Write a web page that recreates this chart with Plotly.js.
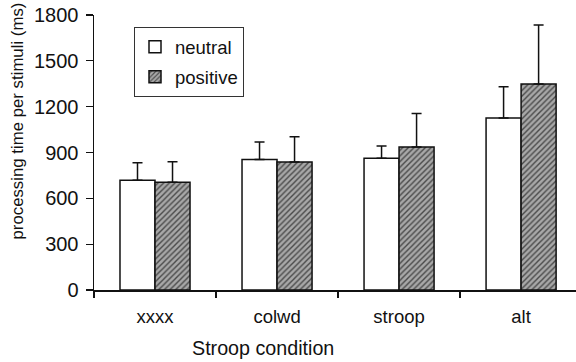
<!DOCTYPE html>
<html>
<head>
<meta charset="utf-8">
<script src="https://cdn.plot.ly/plotly-3.0.1.min.js"></script>
<style>html,body{margin:0;padding:0;background:#fff;}#chart{width:576px;height:362px;}</style>
</head>
<body>
<div id="chart"></div>
<script>
const categories = ["xxxx", "colwd", "stroop", "alt"];
const neutralMeans = [718, 855, 862, 1126];
const neutralErr = [115, 114, 80, 204];
const positiveMeans = [705, 838, 936, 1348];
const positiveErr = [135, 165, 220, 386];
const yTicks = [0, 300, 600, 900, 1200, 1500, 1800];

const FONT = "Liberation Sans, Arial, Helvetica, sans-serif";

const traces = [
  {
    type: "bar", name: "neutral", x: categories, y: neutralMeans, legendgroup: "a",
    marker: {color: "#ffffff", line: {color: "#111", width: 1.5}},
    error_y: {type: "data", array: neutralErr, arrayminus: [0,0,0,0], symmetric: false, color: "#111", thickness: 1.5, width: 5}
  },
  {
    type: "bar", name: "positive", x: categories, y: positiveMeans, legendgroup: "b",
    marker: {color: "#a8a8a8", line: {color: "#111", width: 1.5},
      pattern: {shape: "/", fgcolor: "#4a4a4a", bgcolor: "#a8a8a8", size: 4, solidity: 0.35}},
    error_y: {type: "data", array: positiveErr, arrayminus: [0,0,0,0], symmetric: false, color: "#111", thickness: 1.5, width: 5}
  }
];

const layout = {
  width: 576, height: 362,
  margin: {l: 94, r: 0, t: 15, b: 72},
  paper_bgcolor: "#ffffff", plot_bgcolor: "#ffffff",
  font: {family: FONT, size: 18, color: "#111"},
  barmode: "group", bargap: 0.426, bargroupgap: 0,
  showlegend: true,
  legend: {
    x: (134 - 94) / 482, y: 0.956, xanchor: "left", yanchor: "top",
    bgcolor: "#ffffff", bordercolor: "#333", borderwidth: 1,
    font: {family: FONT, size: 18.5, color: "#111"},
    traceorder: "grouped", tracegroupgap: 3
  },
  xaxis: {
    type: "category", range: [-0.5, 3.45],
    showline: true, linecolor: "#111", linewidth: 1.5,
    ticks: "outside", ticklen: 6, tickwidth: 1.2, tickcolor: "#111",
    tickson: "boundaries", showgrid: false, zeroline: false,
    tickfont: {family: FONT, size: 18.5, color: "#111"},
    ticklabelstandoff: 9
  },
  yaxis: {
    range: [0, 1800], tickvals: yTicks, ticktext: yTicks.map(String),
    showline: true, linecolor: "#111", linewidth: 1.5,
    ticks: "outside", ticklen: 7, tickwidth: 1.2, tickcolor: "#111",
    showgrid: false, zeroline: false,
    tickfont: {family: FONT, size: 20, color: "#111"},
    ticklabelstandoff: 3
  },
  annotations: [
    {text: "processing time per stimuli (ms)", textangle: -90, xref: "paper", yref: "paper",
     x: (17 - 94) / 482, y: (290 - 121.5) / 275, xanchor: "center", yanchor: "middle", showarrow: false,
     font: {family: FONT, size: 16.8, color: "#111"}},
    {text: "Stroop condition", xref: "paper", yref: "paper",
     x: (263 - 94) / 482, y: (290 - 348) / 275, xanchor: "center", yanchor: "middle", showarrow: false,
     font: {family: FONT, size: 19.7, color: "#111"}}
  ]
};

Plotly.newPlot("chart", traces, layout, {displayModeBar: false, staticPlot: true});
</script>
</body>
</html>
